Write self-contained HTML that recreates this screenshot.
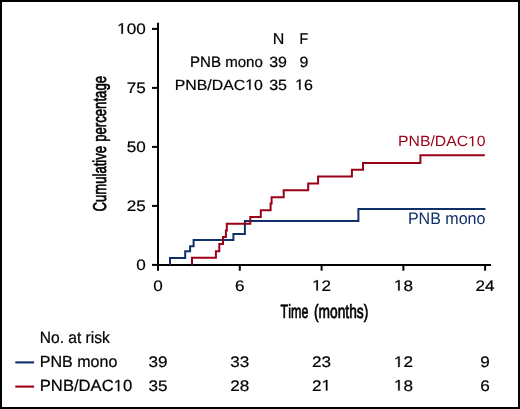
<!DOCTYPE html>
<html><head><meta charset="utf-8"><style>
html,body{margin:0;padding:0;background:#fff;}
body{width:520px;height:409px;overflow:hidden;}
svg{display:block;will-change:transform;}
text{font-family:"Liberation Sans",sans-serif;font-size:16px;font-kerning:none;text-rendering:geometricPrecision;}
.h{fill-opacity:0;stroke-opacity:0;}
</style></head><body>
<svg width="520" height="409" viewBox="0 0 520 409">
<rect x="1" y="1" width="518" height="407" fill="#fff" stroke="#000" stroke-width="2"/>
<g stroke="#000" stroke-width="2" fill="none">
<line x1="158" y1="22.7" x2="158" y2="270.7"/>
<line x1="157" y1="264.9" x2="491" y2="264.9"/>
<line x1="152" y1="28.9" x2="158" y2="28.9"/>
<line x1="152" y1="87.9" x2="158" y2="87.9"/>
<line x1="152" y1="146.9" x2="158" y2="146.9"/>
<line x1="152" y1="205.9" x2="158" y2="205.9"/>
<line x1="152" y1="264.9" x2="158" y2="264.9"/>
<line x1="239.8" y1="264" x2="239.8" y2="270.7"/>
<line x1="321.6" y1="264" x2="321.6" y2="270.7"/>
<line x1="403.4" y1="264" x2="403.4" y2="270.7"/>
<line x1="485.1" y1="264" x2="485.1" y2="270.7"/>
</g>
<path d="M170,265 V258 H185.2 V251.3 H190.1 V246.2 H193.6 V240.1 H233.4 V234.1 H244.9 V221.1 H358.4 V209 H485.5" fill="none" stroke="#0f3069" stroke-width="2"/>
<path d="M192,265 V257.8 H215.9 V251.2 H219.3 V244 H223 V236.9 H225.9 V230.5 H226.8 V223.7 H250.3 V217 H260.8 V210.3 H270.6 V203.5 H271.6 V197.2 H283.7 V190.3 H308.2 V183.4 H318.1 V176.6 H351.9 V169.7 H363 V162.9 H420.4 V155.3 H484.8" fill="none" stroke="#9a0018" stroke-width="2"/>
<line x1="15.3" y1="362.4" x2="34.1" y2="362.4" stroke="#0f3069" stroke-width="2.1"/>
<line x1="15.3" y1="386.6" x2="34.1" y2="386.6" stroke="#9a0018" stroke-width="2.1"/>

<g fill="#000">
<text stroke="#000" stroke-width="0.220" transform="matrix(1.0014,0,0,0.9811,272.64,43.80)">N</text>
<text stroke="#000" stroke-width="0.249" transform="matrix(0.8823,0,0,0.9811,299.44,43.80)">F</text>
<text stroke="#000" stroke-width="0.234" transform="matrix(0.9419,0,0,0.9448,189.96,66.70)">PNB mono</text>
<text stroke="#000" stroke-width="0.222" transform="matrix(0.9898,0,0,0.9181,174.80,89.66)">PNB/DAC<tspan class="h">1</tspan>0</text>
<path fill="#000" stroke="#000" stroke-width="28.4" transform="matrix(0.00773,0,0,-0.00717,245.20,89.66)" d="M515 0V1237L197 1010V1180L530 1409H696V0Z"/>
<text fill="#9a0018" transform="matrix(0.9841,0,0,0.9269,398.01,146.36)">PNB/DAC<tspan class="h">1</tspan>0</text>
<path fill="#9a0018" transform="matrix(0.00769,0,0,-0.00724,468.00,146.36)" d="M515 0V1237L197 1010V1180L530 1409H696V0Z"/>
<text fill="#0f3069" transform="matrix(1.0029,0,0,1.0356,407.88,224.00)">PNB mono</text>
<text stroke="#000" stroke-width="0.226" transform="matrix(0.9719,0,0,1.0175,39.78,342.80)">No. at risk</text>
<text stroke="#000" stroke-width="0.220" transform="matrix(1.0022,0,0,1.0084,39.83,366.90)">PNB mono</text>
<text stroke="#000" stroke-width="0.212" transform="matrix(1.0387,0,0,1.0152,39.79,391.14)">PNB/DAC<tspan class="h">1</tspan>0</text>
<path fill="#000" stroke="#000" stroke-width="27.1" transform="matrix(0.00811,0,0,-0.00793,113.66,391.14)" d="M515 0V1237L197 1010V1180L530 1409H696V0Z"/>
<text stroke="#000" stroke-width="0.206" transform="matrix(1.0700,0,0,0.9500,117.10,33.80)"><tspan class="h">1</tspan>00</text>
<path fill="#000" stroke="#000" stroke-width="26.3" transform="matrix(0.00836,0,0,-0.00742,117.10,33.80)" d="M515 0V1237L197 1010V1180L530 1409H696V0Z"/>
<text stroke="#000" stroke-width="0.206" transform="matrix(1.0700,0,0,0.9500,126.68,92.70)">75</text>
<text stroke="#000" stroke-width="0.206" transform="matrix(1.0700,0,0,0.9500,126.63,151.60)">50</text>
<text stroke="#000" stroke-width="0.206" transform="matrix(1.0700,0,0,0.9500,126.68,210.60)">25</text>
<text stroke="#000" stroke-width="0.206" transform="matrix(1.0700,0,0,0.9500,136.15,269.60)">0</text>
<text stroke="#000" stroke-width="0.206" transform="matrix(1.0700,0,0,0.9500,153.24,290.60)">0</text>
<text stroke="#000" stroke-width="0.206" transform="matrix(1.0700,0,0,0.9500,235.04,290.60)">6</text>
<text stroke="#000" stroke-width="0.206" transform="matrix(1.0700,0,0,0.9500,312.08,290.60)"><tspan class="h">1</tspan>2</text>
<path fill="#000" stroke="#000" stroke-width="26.3" transform="matrix(0.00836,0,0,-0.00742,312.08,290.60)" d="M515 0V1237L197 1010V1180L530 1409H696V0Z"/>
<text stroke="#000" stroke-width="0.206" transform="matrix(1.0700,0,0,0.9500,393.88,290.60)"><tspan class="h">1</tspan>8</text>
<path fill="#000" stroke="#000" stroke-width="26.3" transform="matrix(0.00836,0,0,-0.00742,393.88,290.60)" d="M515 0V1237L197 1010V1180L530 1409H696V0Z"/>
<text stroke="#000" stroke-width="0.206" transform="matrix(1.0700,0,0,0.9500,475.58,290.60)">24</text>
<text stroke="#000" stroke-width="0.220" transform="matrix(1.0000,0,0,0.9250,269.20,66.60)">39</text>
<text stroke="#000" stroke-width="0.220" transform="matrix(1.0000,0,0,0.9250,299.55,66.60)">9</text>
<text stroke="#000" stroke-width="0.220" transform="matrix(1.0000,0,0,0.9250,269.20,89.70)">35</text>
<text stroke="#000" stroke-width="0.220" transform="matrix(1.0000,0,0,0.9250,295.10,89.70)"><tspan class="h">1</tspan>6</text>
<path fill="#000" stroke="#000" stroke-width="28.2" transform="matrix(0.00781,0,0,-0.00723,295.10,89.70)" d="M515 0V1237L197 1010V1180L530 1409H696V0Z"/>
<text stroke="#000" stroke-width="0.206" transform="matrix(1.0700,0,0,0.9550,148.48,367.00)">39</text>
<text stroke="#000" stroke-width="0.206" transform="matrix(1.0700,0,0,0.9550,230.28,367.00)">33</text>
<text stroke="#000" stroke-width="0.206" transform="matrix(1.0700,0,0,0.9550,312.08,367.00)">23</text>
<text stroke="#000" stroke-width="0.206" transform="matrix(1.0700,0,0,0.9550,393.88,367.00)"><tspan class="h">1</tspan>2</text>
<path fill="#000" stroke="#000" stroke-width="26.3" transform="matrix(0.00836,0,0,-0.00746,393.88,367.00)" d="M515 0V1237L197 1010V1180L530 1409H696V0Z"/>
<text stroke="#000" stroke-width="0.206" transform="matrix(1.0700,0,0,0.9550,480.34,367.00)">9</text>
<text stroke="#000" stroke-width="0.206" transform="matrix(1.0700,0,0,0.9550,148.48,390.60)">35</text>
<text stroke="#000" stroke-width="0.206" transform="matrix(1.0700,0,0,0.9550,230.28,390.60)">28</text>
<text stroke="#000" stroke-width="0.206" transform="matrix(1.0700,0,0,0.9550,312.08,390.60)">2<tspan class="h">1</tspan></text>
<path fill="#000" stroke="#000" stroke-width="26.3" transform="matrix(0.00836,0,0,-0.00746,321.60,390.60)" d="M515 0V1237L197 1010V1180L530 1409H696V0Z"/>
<text stroke="#000" stroke-width="0.206" transform="matrix(1.0700,0,0,0.9550,393.88,390.60)"><tspan class="h">1</tspan>8</text>
<path fill="#000" stroke="#000" stroke-width="26.3" transform="matrix(0.00836,0,0,-0.00746,393.88,390.60)" d="M515 0V1237L197 1010V1180L530 1409H696V0Z"/>
<text stroke="#000" stroke-width="0.206" transform="matrix(1.0700,0,0,0.9550,480.34,390.60)">6</text>
<text stroke="#000" stroke-width="0.60" transform="matrix(0.7830,0,0,1.2000,280.62,317.60)">Time</text>
<text stroke="#000" stroke-width="0.60" transform="matrix(0.8603,0,0,1.2000,313.95,317.60)">(months)</text>
<text stroke="#000" stroke-width="0.60" transform="matrix(0,-0.8190,1.1600,0,106.10,211.47)">Cumulative</text>
<text stroke="#000" stroke-width="0.60" transform="matrix(0,-0.8235,1.1600,0,106.10,141.85)">percentage</text>
</g>
</svg>
</body></html>
